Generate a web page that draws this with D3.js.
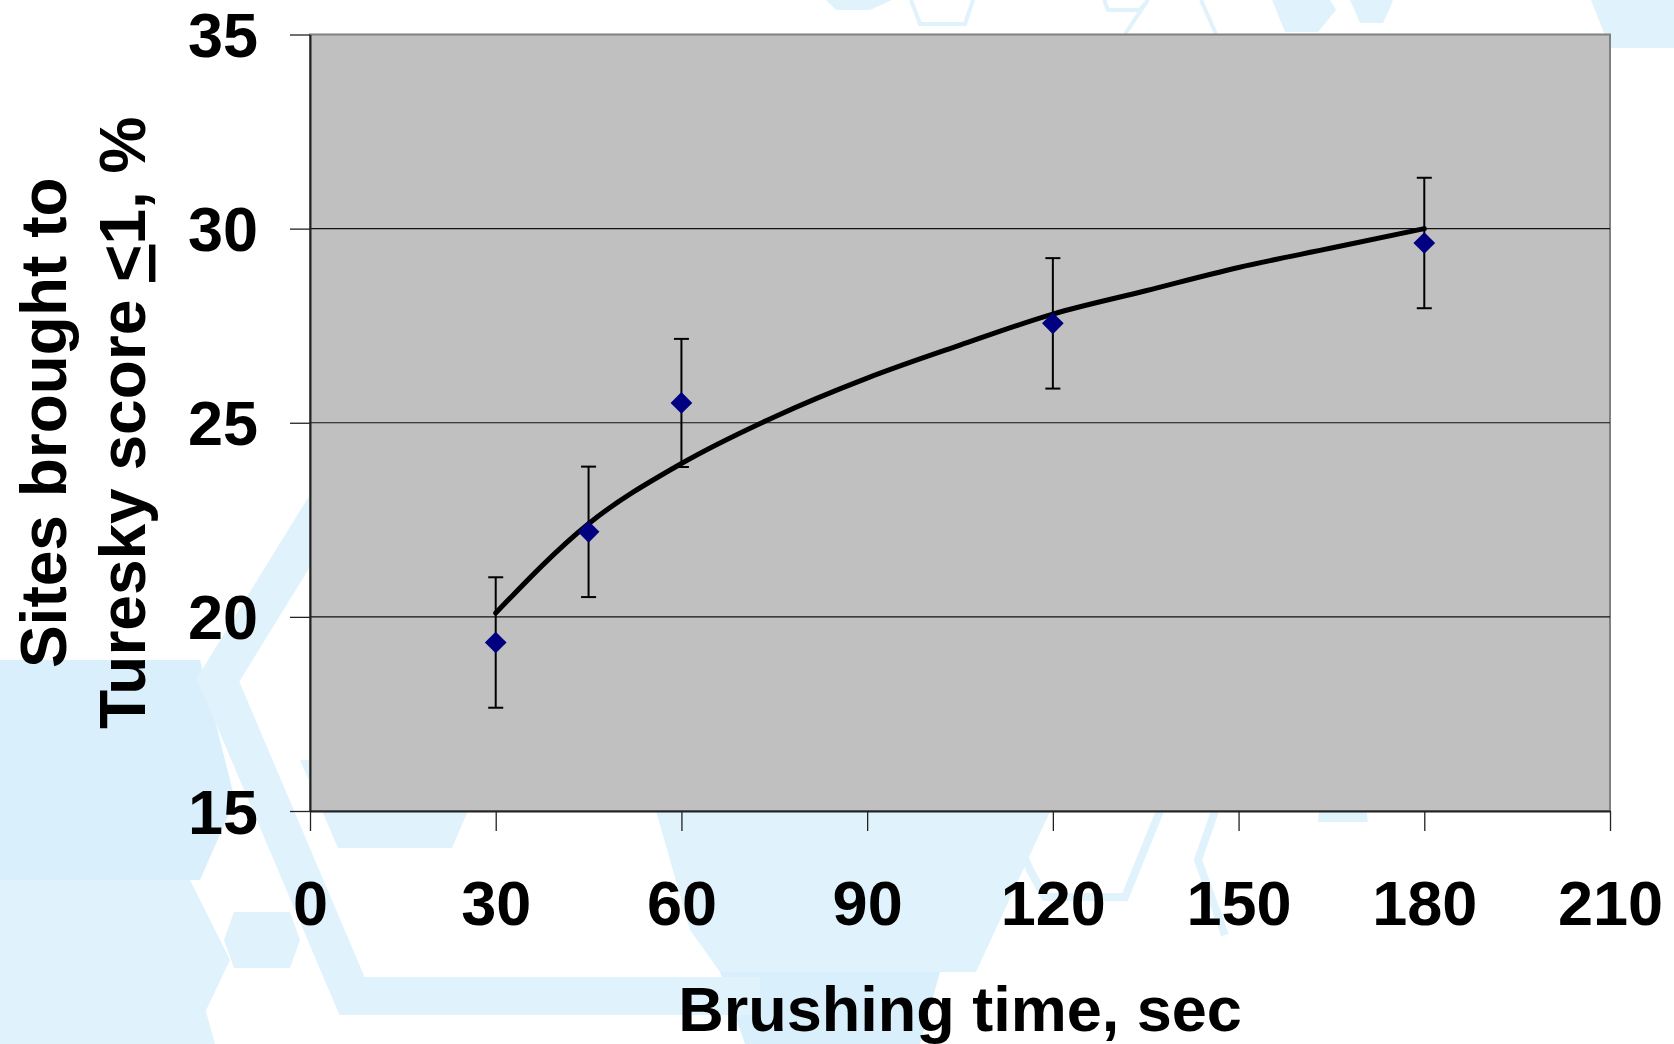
<!doctype html>
<html>
<head>
<meta charset="utf-8">
<script src="https://d3js.org/d3.v7.min.js"></script>
<style>
  html, body { margin: 0; padding: 0; background: #fff; }
  svg { display: block; }
  text { font-family: "Liberation Sans", Arial, sans-serif; font-weight: bold; fill: #000; }
</style>
</head>
<body>
<div id="chart"></div>
<script>
// brushing time (sec) and mean % of sites reaching Turesky score <=1
var times   = [30, 45, 60, 120, 180];
var means   = [19.34, 22.19, 25.51, 27.56, 29.63];
var errors  = [1.68, 1.68, 1.65, 1.68, 1.68];

// trend line
var trendX  = [30, 45, 60, 75, 90, 105, 120, 135, 150, 165, 180];
var trendY  = [20.1, 22.4, 23.95, 25.15, 26.15, 27.0, 27.8, 28.4, 29.0, 29.5, 30.0];

var xTicks  = [0, 30, 60, 90, 120, 150, 180, 210];
var yTicks  = [15, 20, 25, 30, 35];
var gridVals = [20, 25, 30];

var W = 1674, H = 1044;
var pLeft = 310, pRight = 1610, pTop = 34.5, pBottom = 811;

var svg = d3.select("#chart").append("svg")
    .attr("width", W).attr("height", H);

// faint hexagon pattern of the slide background
var light = "#e0f3fd", light2 = "#d9effb";
var bg = svg.append("g");
var filled = [
    {c: light,  p: [[0,660],[95,660],[140,800],[95,1044],[0,1044]]},
    {c: light2, p: [[0,660],[200,660],[235,800],[200,880],[0,880]]},
    {c: light,  p: [[0,880],[190,880],[230,960],[190,1044],[0,1044]]},
    {c: light,  p: [[300,760],[490,760],[452,848],[338,848]]},
    {c: light,  p: [[650,790],[1060,790],[976,972],[720,972],[690,930]]},
    {c: light2, p: [[720,972],[940,972],[920,1044],[745,1044]]},
    {c: light,  p: [[234,912],[290,912],[300,940],[290,968],[234,968],[224,940]]},
    {c: light,  p: [[150,990],[200,990],[215,1044],[140,1044]]},
    {c: light,  p: [[1320,800],[1365,800],[1368,822],[1318,822]]},
    {c: light,  p: [[826,0],[892,0],[870,10],[836,10]]},
    {c: light,  p: [[1272,0],[1330,0],[1336,10],[1318,32],[1285,32]]},
    {c: light,  p: [[1350,0],[1393,0],[1390,8],[1383,23],[1360,23]]},
    {c: light,  p: [[1591,0],[1674,0],[1674,48],[1610,48]]}
];
bg.selectAll("polygon").data(filled).enter().append("polygon")
    .attr("points", function(d) { return d.p.join(" "); })
    .attr("fill", function(d) { return d.c; });
var outlines = [
    {w: 38, p: [[372,430],[218,680],[352,996],[760,996]]},
    {w: 8,  p: [[1005,811],[1030,870],[1045,897],[1125,897],[1160,811]]},
    {w: 8,  p: [[1215,811],[1198,860],[1225,935]]},
    {w: 4,  p: [[911,0],[920,24],[965,24],[973,0]]},
    {w: 4,  p: [[1104,0],[1108,10],[1140,10],[1148,0],[1125,34]]},
    {w: 4,  p: [[1201,0],[1216,34]]}
];
bg.selectAll("polyline").data(outlines).enter().append("polyline")
    .attr("points", function(d) { return d.p.join(" "); })
    .attr("fill", "none")
    .attr("stroke", light)
    .attr("stroke-width", function(d) { return d.w; });

var x = d3.scaleLinear().domain([0, 210]).range([pLeft, pRight]);
var y = d3.scaleLinear().domain([15, 35]).range([pBottom, pTop]);

// plot area
svg.append("rect")
    .attr("x", pLeft).attr("y", pTop)
    .attr("width", pRight - pLeft).attr("height", pBottom - pTop)
    .attr("fill", "#c0c0c0")
    .attr("stroke", "#808080")
    .attr("stroke-width", 2);

svg.append("g").selectAll("line").data(gridVals).enter().append("line")
    .attr("x1", pLeft).attr("x2", pRight)
    .attr("y1", function(d) { return y(d); })
    .attr("y2", function(d) { return y(d); })
    .attr("stroke", "#111").attr("stroke-width", 1.2);

// axes
var xAxis = svg.append("g")
    .attr("transform", "translate(0," + pBottom + ")")
    .call(d3.axisBottom(x).tickValues(xTicks).tickSize(20).tickSizeOuter(0).tickPadding(49));
var yAxis = svg.append("g")
    .attr("transform", "translate(" + pLeft + ",0)")
    .call(d3.axisLeft(y).tickValues(yTicks).tickSize(20).tickSizeOuter(0).tickPadding(32));

[xAxis, yAxis].forEach(function(a) {
    a.select(".domain").attr("stroke", "#222").attr("stroke-width", 2);
    a.selectAll(".tick line").attr("stroke", "#222").attr("stroke-width", 1.3);
    a.selectAll(".tick text")
        .style("font-family", "'Liberation Sans', Arial, sans-serif")
        .style("font-weight", "bold")
        .attr("font-size", 63)
        .attr("fill", "#000");
});
yAxis.selectAll(".tick text").attr("dy", "0.35em");

// trend line
var line = d3.line()
    .x(function(d, i) { return x(trendX[i]); })
    .y(function(d) { return y(d); })
    .curve(d3.curveMonotoneX);
svg.append("path")
    .datum(trendY)
    .attr("d", line)
    .attr("fill", "none")
    .attr("stroke", "#000")
    .attr("stroke-width", 5)
    .attr("stroke-linecap", "round");

// error bars
var eb = svg.append("g").attr("stroke", "#000").attr("stroke-width", 2);
times.forEach(function(t, i) {
    var cx = x(t), y1 = y(means[i] + errors[i]), y2 = y(means[i] - errors[i]);
    eb.append("line").attr("x1", cx).attr("x2", cx).attr("y1", y1).attr("y2", y2);
    eb.append("line").attr("x1", cx - 7.5).attr("x2", cx + 7.5).attr("y1", y1).attr("y2", y1);
    eb.append("line").attr("x1", cx - 7.5).attr("x2", cx + 7.5).attr("y1", y2).attr("y2", y2);
});

// markers
svg.append("g").selectAll("path").data(times).enter().append("path")
    .attr("d", d3.symbol().type(d3.symbolDiamond2).size(300))
    .attr("transform", function(d, i) { return "translate(" + x(d) + "," + y(means[i]) + ")"; })
    .attr("fill", "#000080");

// titles
svg.append("text")
    .attr("x", (pLeft + pRight) / 2).attr("y", 1031)
    .attr("text-anchor", "middle")
    .attr("font-size", 63)
    .text("Brushing time, sec");

var cy = (pTop + pBottom) / 2;
svg.append("text")
    .attr("transform", "translate(66," + cy + ") rotate(-90)")
    .attr("text-anchor", "middle")
    .attr("font-size", 64)
    .text("Sites brought to");
var t2 = svg.append("text")
    .attr("transform", "translate(145," + cy + ") rotate(-90)")
    .attr("text-anchor", "middle")
    .attr("font-size", 64);
t2.append("tspan").text("Turesky score ");
t2.append("tspan").style("text-decoration", "underline").text("<");
t2.append("tspan").text("1, %");
</script>
</body>
</html>
